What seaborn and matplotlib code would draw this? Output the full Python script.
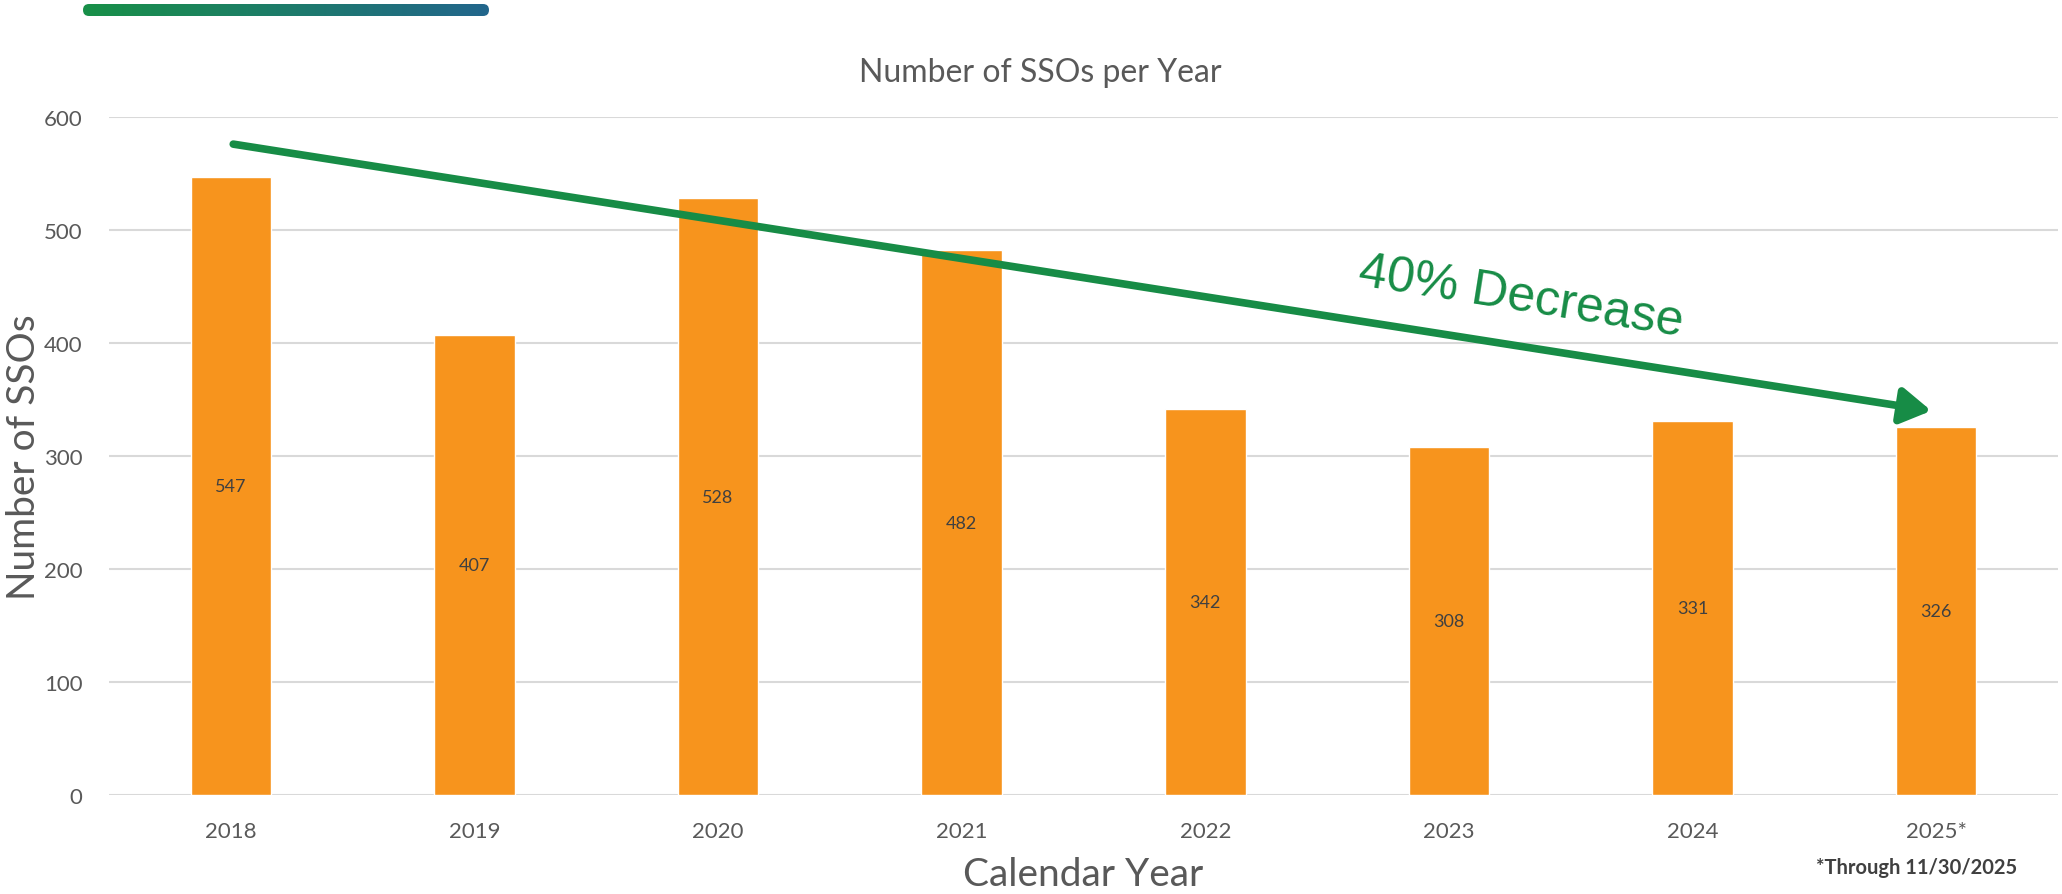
import numpy as np
import seaborn as sns
import matplotlib.pyplot as plt
from matplotlib.patches import FancyBboxPatch
from matplotlib.colors import LinearSegmentedColormap

# chart data
years = ["2018", "2019", "2020", "2021", "2022", "2023", "2024", "2025*"]
ssos = [547, 407, 528, 482, 342, 308, 331, 326]
y_ticks = [0, 100, 200, 300, 400, 500, 600]

# trend arrow (category index, value)
arrow_start = (0.01, 576)
arrow_end = (6.98, 340)
trend_label = "40% Decrease"
footnote = "*Through 11/30/2025"

ORANGE = "#F7941D"
GREEN = "#178C46"
GRAY = "#595959"

sns.set_theme(style="white")
plt.rcParams['font.family'] = ['Lato', 'DejaVu Sans']

fig = plt.figure(figsize=(20.62, 8.95), dpi=100)
ax = fig.add_axes([109 / 2062, 1 - 796 / 895, 1949 / 2062, 678 / 895])

sns.barplot(x=years, y=ssos, color=ORANGE, saturation=1, width=0.33, ax=ax, zorder=3)
ax.bar_label(ax.containers[0], label_type="center", fontsize=13, color="#404040")

ax.set_ylim(0, 600)
ax.set_xlim(-0.5, len(years) - 0.5)
ax.set_yticks(y_ticks)
ax.yaxis.grid(True, color="#D9D9D9", lw=1.5, zorder=0)
ax.set_axisbelow(True)
sns.despine(ax=ax, left=True, bottom=True)
ax.tick_params(axis="y", length=0, pad=19, labelsize=16, labelcolor=GRAY)
ax.tick_params(axis="x", length=0, pad=19, labelsize=16, labelcolor=GRAY)

ax.set_ylabel("Number of SSOs", fontsize=28, color=GRAY, va="center")
ax.yaxis.set_label_coords(-0.0436, 0.5)
ax.set_xlabel("Calendar Year", fontsize=28, color=GRAY, va="center")
ax.xaxis.set_label_coords(0.5, -0.1165)

ax.text(0.4777, 1 + 45 / 678, "Number of SSOs per Year", transform=ax.transAxes,
        ha="center", va="center", fontsize=23, color=GRAY)

# trend arrow and label
ax.annotate("", xy=arrow_end, xytext=arrow_start, zorder=5,
            arrowprops=dict(arrowstyle="-|>,head_length=0.45,head_width=0.27",
                            mutation_scale=40, lw=5.5, color=GREEN,
                            shrinkA=0, shrinkB=0))
ax.text(5.294, 440.7, trend_label, fontsize=36, color=GREEN, rotation=-9,
        ha="center", va="center", rotation_mode="anchor",
        family=["Liberation Sans", "DejaVu Sans"], zorder=5)

fig.text(1917 / 2062, 1 - 868 / 895, footnote, ha="center", va="center",
         fontsize=14.5, fontweight="bold", color="#404040")

# gradient stripe at the top
bar_ax = fig.add_axes([83 / 2062, 1 - 17 / 895, 406 / 2062, 12 / 895])
cmap = LinearSegmentedColormap.from_list("stripe", ["#189048", "#22668C"])
img = bar_ax.imshow(np.linspace(0, 1, 256)[None, :], cmap=cmap, aspect="auto",
                    extent=[0, 406, 0, 12])
clip = FancyBboxPatch((0, 0), 406, 12, boxstyle="round,pad=0,rounding_size=6",
                      transform=bar_ax.transData, facecolor="none", edgecolor="none")
bar_ax.add_patch(clip)
img.set_clip_path(clip)
bar_ax.set_xlim(0, 406)
bar_ax.set_ylim(0, 12)
bar_ax.axis("off")

fig.savefig("out.png", dpi=100)
